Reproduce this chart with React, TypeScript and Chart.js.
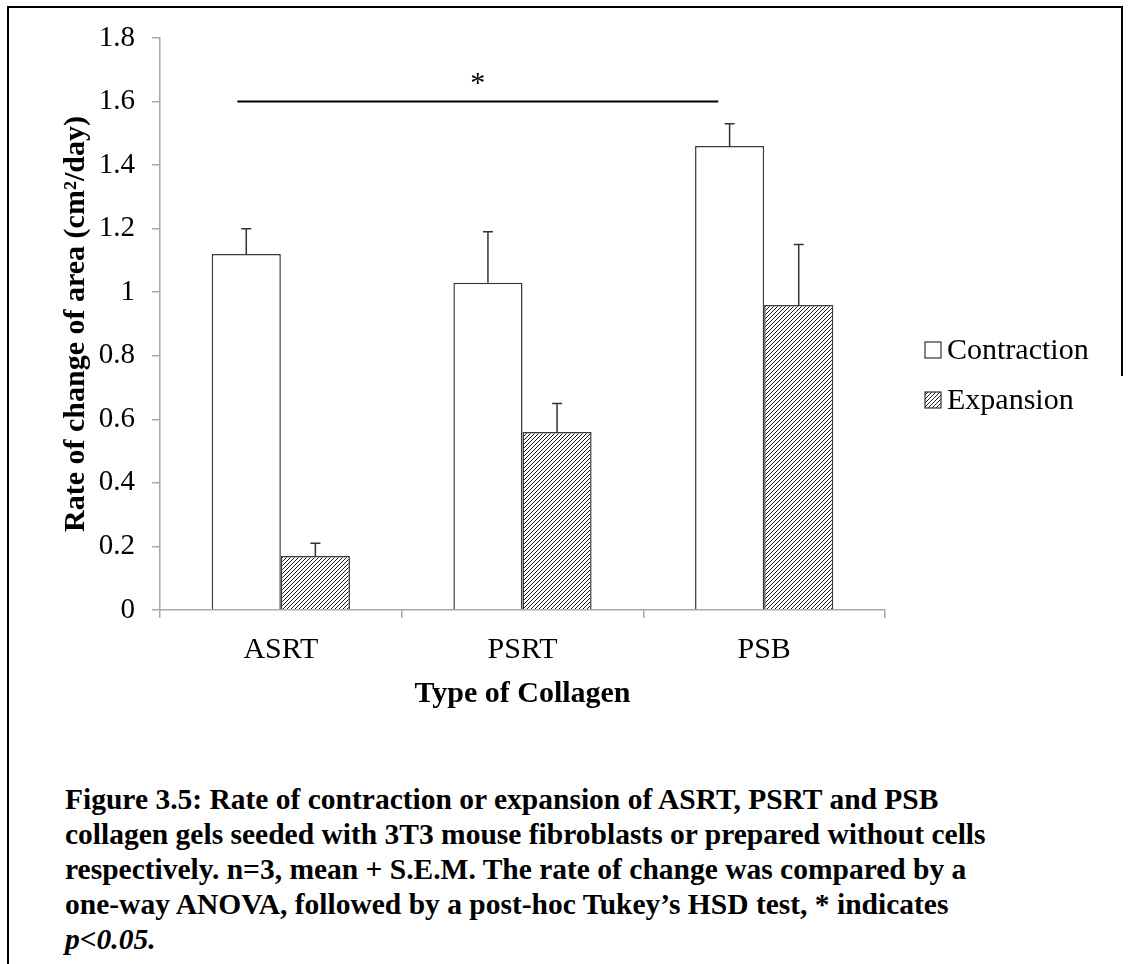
import React, { useEffect, useRef } from "react";
import { Chart, registerables } from "chart.js";

Chart.register(...registerables);

// Collagen types on the x axis
const categories = ["ASRT", "PSRT", "PSB"];
// Mean rate of change of area (cm²/day)
const contraction = [1.12, 1.03, 1.46];
const expansion = [0.17, 0.56, 0.96];
// Standard error of the mean for each bar
const contractionSem = [0.08, 0.16, 0.07];
const expansionSem = [0.04, 0.09, 0.19];
// Y axis tick values
const yTicks = [0, 0.2, 0.4, 0.6, 0.8, 1, 1.2, 1.4, 1.6, 1.8];
const seriesNames = ["Contraction", "Expansion"];
// Significance bracket between ASRT and PSB contraction (category index units)
const sigFrom = -0.18;
const sigTo = 1.81;
const sigLevel = 1.6;
const sigMark = "*";

const SERIF = "'Liberation Serif', 'Times New Roman', serif";

function makeHatch(): CanvasPattern | string {
  const c = document.createElement("canvas");
  c.width = 4;
  c.height = 4;
  const g = c.getContext("2d");
  if (!g) return "#999";
  g.fillStyle = "#ffffff";
  g.fillRect(0, 0, 4, 4);
  g.strokeStyle = "#1a1a1a";
  g.lineWidth = 1;
  g.beginPath();
  g.moveTo(0, 4);
  g.lineTo(4, 0);
  g.moveTo(-1, 1);
  g.lineTo(1, -1);
  g.moveTo(3, 5);
  g.lineTo(5, 3);
  g.stroke();
  return g.createPattern(c, "repeat") || "#999";
}

const errorBarsPlugin = {
  id: "errorBars",
  afterDatasetsDraw(chart: any, _args: any, opts: any) {
    const { ctx } = chart;
    const yScale = chart.scales.y;
    const sems: number[][] = opts.sems;
    ctx.save();
    ctx.strokeStyle = opts.color;
    ctx.lineWidth = opts.lineWidth;
    chart.data.datasets.forEach((ds: any, i: number) => {
      const meta = chart.getDatasetMeta(i);
      meta.data.forEach((bar: any, j: number) => {
        const v = ds.data[j];
        const top = yScale.getPixelForValue(v + sems[i][j]);
        ctx.beginPath();
        ctx.moveTo(bar.x, bar.y);
        ctx.lineTo(bar.x, top);
        ctx.moveTo(bar.x - opts.cap / 2, top);
        ctx.lineTo(bar.x + opts.cap / 2, top);
        ctx.stroke();
      });
    });
    ctx.restore();
  },
};

const sigPlugin = {
  id: "sigBracket",
  afterDatasetsDraw(chart: any, _args: any, opts: any) {
    const { ctx } = chart;
    const xs = chart.scales.x;
    const ys = chart.scales.y;
    const x1 = xs.getPixelForValue(sigFrom);
    const x2 = xs.getPixelForValue(sigTo);
    const y = ys.getPixelForValue(sigLevel);
    ctx.save();
    ctx.strokeStyle = "#000";
    ctx.lineWidth = 2;
    ctx.beginPath();
    ctx.moveTo(x1, y);
    ctx.lineTo(x2, y);
    ctx.stroke();
    ctx.fillStyle = "#000";
    ctx.font = `${opts.size}px ${SERIF}`;
    ctx.textAlign = "center";
    ctx.textBaseline = "alphabetic";
    ctx.fillText(sigMark, (x1 + x2) / 2, y - opts.gap);
    ctx.restore();
  },
};

const legendPlugin = {
  id: "boxLegend",
  afterDraw(chart: any, _args: any, opts: any) {
    const { ctx, chartArea } = chart;
    ctx.save();
    ctx.font = `${opts.size}px ${SERIF}`;
    ctx.textBaseline = "middle";
    ctx.textAlign = "left";
    chart.data.datasets.forEach((ds: any, i: number) => {
      const cy = chartArea.top + opts.top + i * opts.rowGap;
      const bx = chartArea.right + opts.left;
      ctx.fillStyle = ds.backgroundColor;
      ctx.fillRect(bx, cy - opts.box / 2, opts.box, opts.box);
      ctx.strokeStyle = "#333";
      ctx.lineWidth = 1.2;
      ctx.strokeRect(bx, cy - opts.box / 2, opts.box, opts.box);
      ctx.fillStyle = "#000";
      ctx.fillText(ds.label, bx + opts.box + 6, cy + 1);
    });
    ctx.restore();
  },
};

function RateChart() {
  const ref = useRef<HTMLCanvasElement | null>(null);
  useEffect(() => {
    if (!ref.current) return;
    const axisGray = "#a8a8a8";
    const chart = new Chart(ref.current, {
      type: "bar",
      data: {
        labels: categories,
        datasets: [
          {
            label: seriesNames[0],
            data: contraction,
            backgroundColor: "#ffffff",
            borderColor: "#3a3a3a",
            borderWidth: 1.5,
          },
          {
            label: seriesNames[1],
            data: expansion,
            backgroundColor: makeHatch() as any,
            borderColor: "#3a3a3a",
            borderWidth: 1.5,
          },
        ],
      },
      options: {
        responsive: false,
        animation: false,
        events: [],
        categoryPercentage: 0.572,
        barPercentage: 1,
        layout: { padding: { left: 0, top: 38, right: 244, bottom: 0 } },
        plugins: {
          legend: { display: false },
          tooltip: { enabled: false },
          errorBars: { sems: [contractionSem, expansionSem], color: "#333", lineWidth: 1.5, cap: 10 },
          sigBracket: { size: 30, gap: 10 },
          boxLegend: { left: 40, top: 312, rowGap: 50, box: 16, size: 30 },
        } as any,
        scales: {
          x: {
            offset: true,
            grid: {
              display: true,
              drawOnChartArea: false,
              drawTicks: true,
              tickLength: 8,
              color: axisGray,
              lineWidth: 1.5,
              offset: true,
            },
            border: { display: true, color: axisGray, width: 1.5 },
            ticks: { color: "#000", font: { family: SERIF, size: 30 }, padding: 14 },
            title: {
              display: true,
              text: "Type of Collagen",
              color: "#000",
              font: { family: SERIF, size: 30, weight: "bold" },
              padding: { top: 0, bottom: 18 },
            },
            afterFit: (s: any) => {
              s.height = 120;
            },
          },
          y: {
            min: 0,
            max: 1.8,
            afterBuildTicks: (s: any) => {
              s.ticks = yTicks.map((v) => ({ value: v }));
            },
            grid: {
              display: true,
              drawOnChartArea: false,
              drawTicks: true,
              tickLength: 8,
              color: axisGray,
              lineWidth: 1.5,
            },
            border: { display: true, color: axisGray, width: 1.5 },
            ticks: {
              color: "#000",
              font: { family: SERIF, size: 29 },
              padding: 17,
              callback: (v: any) => String(Number(Number(v).toFixed(1))),
            },
            title: {
              display: true,
              text: "Rate of change of area (cm²/day)",
              color: "#000",
              font: { family: SERIF, size: 30, weight: "bold" },
              padding: { top: 58, bottom: 0 },
            },
            afterFit: (s: any) => {
              s.width = 160;
            },
          },
        },
      },
      plugins: [errorBarsPlugin, sigPlugin, legendPlugin],
    });
    return () => chart.destroy();
  }, []);
  return <canvas ref={ref} width={1129} height={730} style={{ position: "absolute", left: 0, top: 0 }} />;
}

export default function App() {
  const line: React.CSSProperties = { whiteSpace: "nowrap" };
  return (
    <div style={{ position: "absolute", left: 0, top: 0, width: 1129, height: 964, background: "#fff", overflow: "hidden" }}>
      <RateChart />
      <div style={{ position: "absolute", left: 7, top: 6, width: 1116, height: 2, background: "#000" }} />
      <div style={{ position: "absolute", left: 7, top: 6, width: 2, height: 958, background: "#000" }} />
      <div style={{ position: "absolute", left: 1121, top: 6, width: 2, height: 370, background: "#000" }} />
      <div
        style={{
          position: "absolute",
          left: 65,
          top: 782,
          fontFamily: SERIF,
          fontWeight: "bold",
          fontSize: 29.5,
          lineHeight: "35px",
          color: "#000",
        }}
      >
        <div style={line}>Figure 3.5: Rate of contraction or expansion of ASRT, PSRT and PSB</div>
        <div style={line}>collagen gels seeded with 3T3 mouse fibroblasts or prepared without cells</div>
        <div style={line}>respectively. n=3, mean + S.E.M. The rate of change was compared by a</div>
        <div style={line}>one-way ANOVA, followed by a post-hoc Tukey’s HSD test, * indicates</div>
        <div style={line}>
          <i>p&lt;0.05.</i>
        </div>
      </div>
    </div>
  );
}
